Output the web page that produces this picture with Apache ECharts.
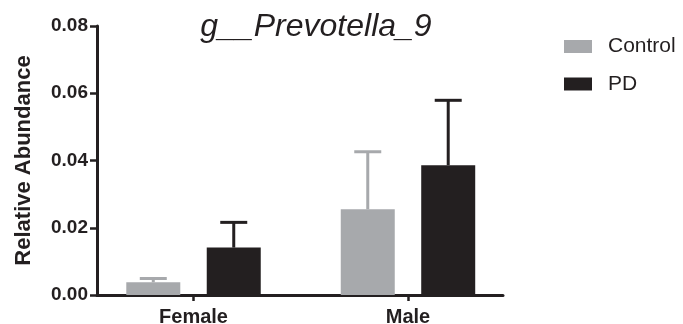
<!DOCTYPE html>
<html>
<head>
<meta charset="utf-8">
<script src="https://cdn.jsdelivr.net/npm/echarts@6/dist/echarts.min.js"></script>
<style>html,body{margin:0;padding:0;background:#fff;}#c{width:683px;height:324px;}</style>
</head>
<body>
<div id="c"></div>
<script>
var title = 'g__Prevotella_9';
var categories = ['Female', 'Male'];
var seriesNames = ['Control', 'PD'];
var controlMean = [0.0038, 0.0255];
var controlErrTop = [0.0049, 0.0426];
var pdMean = [0.0141, 0.0386];
var pdErrTop = [0.0216, 0.0579];
var yTicks = [0, 0.02, 0.04, 0.06, 0.08];

var GRAY = '#a7a9ac';
var DARK = '#231f20';
var BAR_W = 54;
var BAR_GAP = 0.49;
var OFFSET = (BAR_W + BAR_W * BAR_GAP) / 2;

function barData(arr) { return arr.map(function (v, i) { return [i, v]; }); }
function errData(mean, top) { return mean.map(function (v, i) { return [i, v, top[i]]; }); }

function errRender(offset, color) {
  return function (params, api) {
    var x = api.value(0);
    var p0 = api.coord([x, api.value(1)]);
    var p1 = api.coord([x, api.value(2)]);
    var cx = p0[0] + offset;
    var half = 13.5;
    return {
      type: 'group',
      children: [
        { type: 'line', shape: { x1: cx, y1: p0[1], x2: cx, y2: p1[1] }, style: { stroke: color, lineWidth: 3 } },
        { type: 'line', shape: { x1: cx - half, y1: p1[1], x2: cx + half, y2: p1[1] }, style: { stroke: color, lineWidth: 3 } }
      ]
    };
  };
}

var chart = echarts.init(document.getElementById('c'), null, { renderer: 'canvas' });
chart.setOption({
  animation: false,
  title: {
    text: title,
    left: 311, top: 6, textAlign: 'center',
    textStyle: { fontFamily: 'Liberation Sans', fontStyle: 'italic', fontWeight: 'normal', fontSize: 32, color: DARK }
  },
  legend: {
    orient: 'vertical', left: 559, top: 31,
    itemWidth: 28, itemHeight: 13, itemGap: 16.5,
    icon: 'rect',
    data: seriesNames,
    textStyle: { fontFamily: 'Liberation Sans', fontSize: 21, color: DARK, padding: [0, 0, 0, 11] }
  },
  grid: { left: 97, right: 180, top: 26, bottom: 29, containLabel: false, outerBoundsMode: 'none' },
  xAxis: {
    type: 'value',
    min: -0.45, max: 1.443,
    splitLine: { show: false },
    axisLine: { show: true, onZero: false, lineStyle: { color: DARK, width: 3 } },
    axisTick: { show: true, customValues: [0, 1], length: 6, lineStyle: { color: DARK, width: 2.5 } },
    axisLabel: {
      customValues: [0, 1],
      formatter: function (v) { return categories[Math.round(v)] || ''; },
      fontFamily: 'Liberation Sans', fontWeight: 'bold', fontSize: 20, color: DARK, margin: 12
    }
  },
  yAxis: {
    type: 'value',
    min: 0, max: 0.08, interval: 0.02,
    name: 'Relative Abundance',
    nameLocation: 'middle', nameGap: 62,
    nameTextStyle: { fontFamily: 'Liberation Sans', fontWeight: 'bold', fontSize: 22, color: DARK },
    splitLine: { show: false },
    axisLine: { show: true, onZero: false, lineStyle: { color: DARK, width: 3 } },
    axisTick: { show: true, length: 7, lineStyle: { color: DARK, width: 2.5 } },
    axisLabel: {
      formatter: function (v) { return v.toFixed(2); },
      fontFamily: 'Liberation Sans', fontWeight: 'bold', fontSize: 19, color: DARK, margin: 9
    }
  },
  series: [
    { name: seriesNames[0], type: 'bar', data: barData(controlMean), barWidth: BAR_W, barGap: (BAR_GAP * 100) + '%', itemStyle: { color: GRAY } },
    { name: seriesNames[1], type: 'bar', data: barData(pdMean), barWidth: BAR_W, barGap: (BAR_GAP * 100) + '%', itemStyle: { color: DARK } },
    { name: seriesNames[0] + ' err', type: 'custom', data: errData(controlMean, controlErrTop), renderItem: errRender(-OFFSET, GRAY), z: 3 },
    { name: seriesNames[1] + ' err', type: 'custom', data: errData(pdMean, pdErrTop), renderItem: errRender(OFFSET, DARK), z: 3 }
  ]
});
</script>
</body>
</html>
